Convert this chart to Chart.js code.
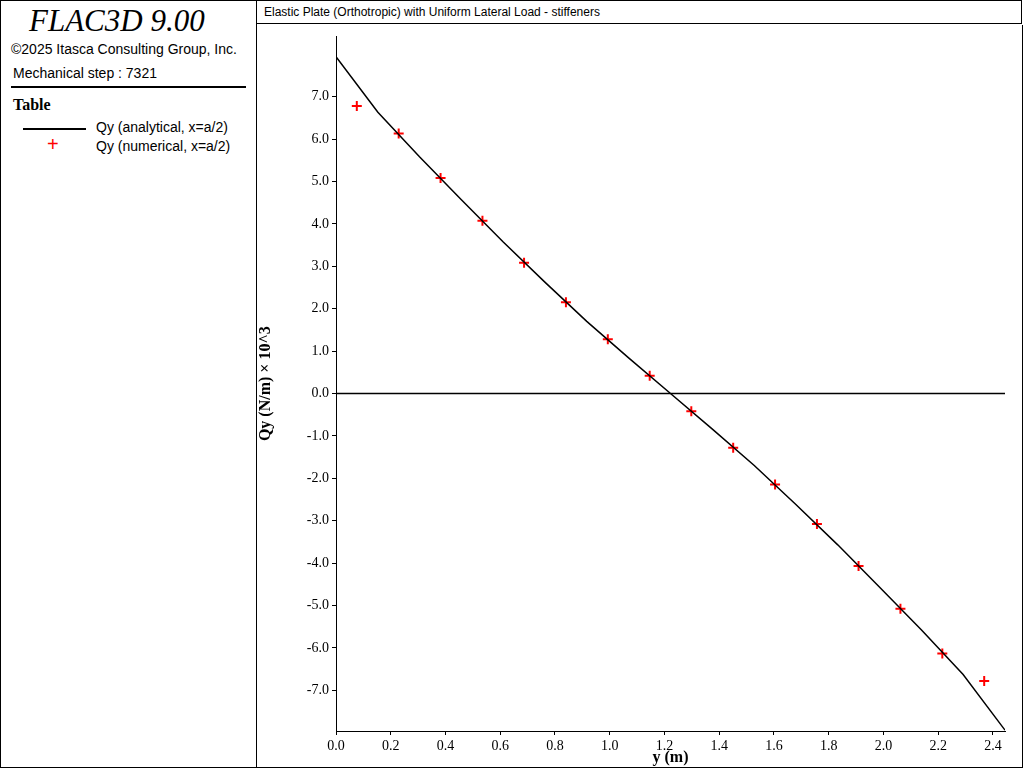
<!DOCTYPE html>
<html><head><meta charset="utf-8">
<script src="https://cdn.jsdelivr.net/npm/chart.js@4"></script>
<style>
body{margin:0;width:1024px;height:768px;background:#fff;overflow:hidden;font-family:"Liberation Sans",Arial,sans-serif}
#left{position:absolute;left:0;top:0;width:255px;height:766px;border:1px solid #000;}
#title{position:absolute;left:256px;top:0;width:766px;height:24px;border:1px solid #000;border-left:none;font-size:12px;line-height:22px;padding-left:8px;box-sizing:border-box}
#wrap{position:absolute;left:256px;top:25px;width:766px;height:742px;border-right:1px solid #000;border-bottom:1px solid #000}
</style></head><body>
<div id="left">
<div style="font-family:'Liberation Serif';font-style:italic;font-size:31px;position:absolute;left:28px;top:2px">FLAC3D 9.00</div>
<div style="position:absolute;left:10px;top:40px;font-size:14px">©2025 Itasca Consulting Group, Inc.</div>
<div style="position:absolute;left:12px;top:64px;font-size:14px">Mechanical step : 7321</div>
<div style="position:absolute;left:10px;top:85px;width:235px;border-top:2px solid #000"></div>
<div style="position:absolute;left:12px;top:95px;font-family:'Liberation Serif';font-weight:bold;font-size:16px">Table</div>
<div style="position:absolute;left:22px;top:127px;width:63px;border-top:2px solid #000"></div>
<div style="position:absolute;left:95px;top:118px;font-size:14px">Qy (analytical, x=a/2)</div>
<div style="position:absolute;left:46px;top:132px;font-size:20px;color:#f00">+</div>
<div style="position:absolute;left:95px;top:137px;font-size:14px">Qy (numerical, x=a/2)</div>
</div>
<div id="title">Elastic Plate (Orthotropic) with Uniform Lateral Load - stiffeners</div>
<div id="wrap"><canvas id="c" width="766" height="742"></canvas></div>
<script>
const anaX=[0,0.153,0.305,0.458,0.611,0.764,0.916,1.069,1.222,1.375,1.528,1.680,1.833,1.986,2.139,2.291,2.444];
const anaY=[7.94,6.63,5.58,4.57,3.57,2.62,1.70,0.84,0,-0.84,-1.70,-2.62,-3.57,-4.57,-5.58,-6.63,-7.94];
const numX=[0.076,0.229,0.382,0.535,0.687,0.840,0.993,1.146,1.298,1.451,1.604,1.757,1.909,2.062,2.215,2.368];
const numY=[6.78,6.13,5.08,4.07,3.08,2.15,1.28,0.42,-0.42,-1.28,-2.15,-3.08,-4.07,-5.08,-6.13,-6.78];
const yTicks=[-7,-6,-5,-4,-3,-2,-1,0,1,2,3,4,5,6,7];
const xTicks=[0,0.2,0.4,0.6,0.8,1.0,1.2,1.4,1.6,1.8,2.0,2.2,2.4];
const serif={family:"Liberation Serif",size:14};
new Chart(document.getElementById('c'),{
type:'scatter',
data:{datasets:[
{data:[{x:0,y:0},{x:2.444,y:0}],showLine:true,borderColor:'#000',borderWidth:1.5,pointRadius:0},
{data:anaX.map((x,i)=>({x,y:anaY[i]})),showLine:true,borderColor:'#000',borderWidth:1.5,pointRadius:0},
{data:numX.map((x,i)=>({x,y:numY[i]})),pointStyle:'cross',pointRadius:5,borderColor:'#f00',borderWidth:2}
]},
options:{responsive:false,animation:false,
layout:{padding:{right:17,top:0}},
plugins:{legend:{display:false},tooltip:{enabled:false}},
scales:{
x:{type:'linear',min:0,max:2.444,border:{color:'#000',width:1},grid:{drawOnChartArea:false,tickLength:4,color:'#000'},
afterBuildTicks:s=>{s.ticks=xTicks.map(v=>({value:v}))},
ticks:{color:'#000',font:serif,callback:v=>v.toFixed(1),maxRotation:0,autoSkip:false},
title:{display:true,text:'y (m)',color:'#000',font:{family:"Liberation Serif",size:16,weight:'bold'},padding:0},
afterFit:s=>{s.height=36}},
y:{type:'linear',min:-7.96,max:8.42,border:{color:'#000',width:1},grid:{drawOnChartArea:false,tickLength:4,color:'#000'},
afterBuildTicks:s=>{s.ticks=yTicks.map(v=>({value:v}))},
ticks:{color:'#000',font:serif,callback:v=>v.toFixed(1),autoSkip:false},
title:{display:true,text:'Qy (N/m) × 10^3',color:'#000',font:{family:"Liberation Serif",size:16,weight:'bold'},padding:0},
afterFit:s=>{s.width=80}}
}}
});
</script>
</body></html>
